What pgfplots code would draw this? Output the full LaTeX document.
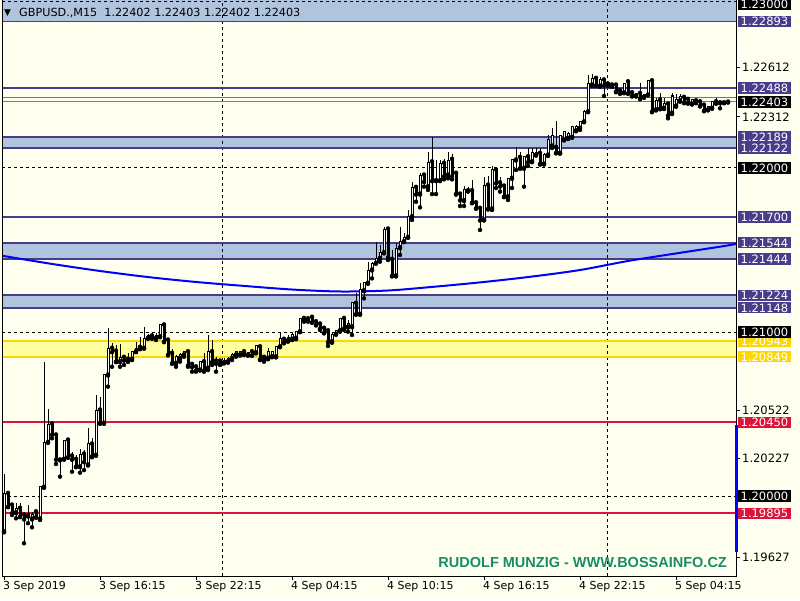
\documentclass[border=0pt]{standalone}
\usepackage{fontspec}
\setmainfont{DejaVu Sans}
\newfontfamily\arialfont{Liberation Sans}
\usepackage{pgfplots}
\usepackage{pgfplotstable}
\usetikzlibrary{calc}
\pgfplotsset{compat=1.18}
\pgfdeclarelayer{background}
\pgfsetlayers{background,main}

\definecolor{bg}{RGB}{255,255,240}
\definecolor{zonefill}{RGB}{176,196,222}
\definecolor{zoneline}{RGB}{72,61,139}
\definecolor{yfill}{RGB}{255,255,160}
\definecolor{yline}{RGB}{255,215,0}
\definecolor{redline}{RGB}{220,20,60}
\definecolor{askline}{RGB}{255,69,0}
\definecolor{mablue}{RGB}{0,0,255}
\definecolor{wmark}{RGB}{24,140,104}

% GBPUSD M15 candles, bar 0 = 3 Sep 10:15
\pgfplotstableread{
i O H L C
0 1.19782 1.20134 1.19780 1.20016
1 1.20016 1.20024 1.19933 1.19935
2 1.19945 1.19951 1.19884 1.19898
3 1.19898 1.19955 1.19864 1.19925
4 1.19925 1.19955 1.19874 1.19874
5 1.19884 1.19904 1.19712 1.19860
6 1.19878 1.19945 1.19834 1.19895
7 1.19860 1.19904 1.19809 1.19890
8 1.19904 1.19915 1.19870 1.19870
9 1.19860 1.20061 1.19854 1.20057
10 1.20053 1.20819 1.20053 1.20327
11 1.20327 1.20529 1.20327 1.20437
12 1.20439 1.20439 1.20352 1.20376
13 1.20372 1.20372 1.20195 1.20224
14 1.20220 1.20230 1.20118 1.20226
15 1.20224 1.20341 1.20224 1.20341
16 1.20341 1.20341 1.20236 1.20236
17 1.20244 1.20270 1.20148 1.20224
18 1.20224 1.20250 1.20179 1.20179
19 1.20179 1.20285 1.20142 1.20256
20 1.20256 1.20280 1.20158 1.20209
21 1.20189 1.20413 1.20189 1.20321
22 1.20317 1.20352 1.20236 1.20244
23 1.20248 1.20616 1.20248 1.20524
24 1.20524 1.20605 1.20443 1.20443
25 1.20443 1.20738 1.20443 1.20738
26 1.20738 1.21023 1.20667 1.20901
27 1.20901 1.20931 1.20788 1.20880
28 1.20884 1.20921 1.20819 1.20819
29 1.20819 1.20927 1.20788 1.20846
30 1.20846 1.20860 1.20799 1.20829
31 1.20834 1.20870 1.20819 1.20821
32 1.20834 1.20884 1.20829 1.20884
33 1.20880 1.20941 1.20880 1.20901
34 1.20907 1.20968 1.20898 1.20898
35 1.20901 1.21032 1.20901 1.20962
36 1.20962 1.20988 1.20962 1.20977
37 1.20976 1.20992 1.20962 1.20962
38 1.20962 1.20992 1.20951 1.20976
39 1.20971 1.21043 1.20971 1.21043
40 1.21043 1.21043 1.20941 1.20941
41 1.20951 1.20951 1.20860 1.20860
42 1.20870 1.20895 1.20809 1.20809
43 1.20809 1.20860 1.20788 1.20849
44 1.20840 1.20870 1.20819 1.20860
45 1.20860 1.20880 1.20849 1.20880
46 1.20880 1.20880 1.20788 1.20799
47 1.20803 1.20809 1.20758 1.20788
48 1.20788 1.20799 1.20758 1.20768
49 1.20768 1.20819 1.20768 1.20819
50 1.20819 1.20870 1.20758 1.20768
51 1.20779 1.20982 1.20768 1.20880
52 1.20880 1.20951 1.20799 1.20819
53 1.20823 1.20849 1.20758 1.20809
54 1.20823 1.20829 1.20799 1.20809
55 1.20813 1.20840 1.20809 1.20829
56 1.20819 1.20849 1.20813 1.20840
57 1.20840 1.20870 1.20829 1.20860
58 1.20860 1.20886 1.20849 1.20880
59 1.20860 1.20884 1.20860 1.20880
60 1.20880 1.20895 1.20860 1.20866
61 1.20860 1.20878 1.20857 1.20874
62 1.20880 1.20890 1.20854 1.20860
63 1.20874 1.20921 1.20870 1.20915
64 1.20910 1.20910 1.20829 1.20834
65 1.20846 1.20860 1.20819 1.20834
66 1.20840 1.20901 1.20834 1.20880
67 1.20849 1.20880 1.20849 1.20880
68 1.20849 1.20910 1.20846 1.20910
69 1.20910 1.20998 1.20910 1.20962
70 1.20956 1.20971 1.20931 1.20941
71 1.20947 1.20982 1.20941 1.20968
72 1.20956 1.20992 1.20951 1.20982
73 1.20962 1.21002 1.20956 1.21002
74 1.21002 1.21083 1.21002 1.21083
75 1.21083 1.21083 1.21063 1.21081
76 1.21081 1.21083 1.21063 1.21081
77 1.21090 1.21090 1.21059 1.21059
78 1.21063 1.21063 1.21043 1.21043
79 1.21049 1.21053 1.21012 1.21023
80 1.21023 1.21032 1.20992 1.20996
81 1.21008 1.21008 1.20915 1.20941
82 1.20941 1.20992 1.20935 1.20986
83 1.20986 1.21008 1.20986 1.21008
84 1.21008 1.21083 1.21002 1.21083
85 1.21083 1.21090 1.21012 1.21023
86 1.21030 1.21073 1.21002 1.21049
87 1.21032 1.21181 1.20982 1.21181
88 1.21175 1.21236 1.21108 1.21108
89 1.21108 1.21297 1.21108 1.21260
90 1.21252 1.21307 1.21205 1.21303
91 1.21297 1.21429 1.21297 1.21378
92 1.21378 1.21429 1.21327 1.21419
93 1.21419 1.21551 1.21419 1.21449
94 1.21449 1.21531 1.21429 1.21484
95 1.21484 1.21638 1.21480 1.21628
96 1.21628 1.21632 1.21439 1.21459
97 1.21443 1.21500 1.21342 1.21342
98 1.21342 1.21545 1.21342 1.21510
99 1.21514 1.21638 1.21470 1.21551
100 1.21551 1.21602 1.21551 1.21577
101 1.21577 1.21744 1.21577 1.21703
102 1.21703 1.21917 1.21683 1.21882
103 1.21882 1.21896 1.21794 1.21841
104 1.21841 1.21968 1.21760 1.21957
105 1.21957 1.21971 1.21886 1.21917
106 1.21886 1.22096 1.21866 1.22035
107 1.22038 1.22187 1.21841 1.21923
108 1.21923 1.22049 1.21841 1.21927
109 1.21923 1.22049 1.21923 1.22029
110 1.22029 1.22053 1.21931 1.21951
111 1.21957 1.22096 1.21937 1.22045
112 1.22053 1.22085 1.21931 1.21951
113 1.21968 1.21968 1.21841 1.21841
114 1.21841 1.21856 1.21768 1.21805
115 1.21801 1.21890 1.21768 1.21866
116 1.21862 1.21886 1.21856 1.21862
117 1.21862 1.21927 1.21788 1.21788
118 1.21788 1.21788 1.21754 1.21754
119 1.21754 1.21754 1.21622 1.21683
120 1.21683 1.21947 1.21683 1.21896
121 1.21896 1.21951 1.21750 1.21750
122 1.21750 1.22012 1.21744 1.21988
123 1.21988 1.21988 1.21878 1.21909
124 1.21910 1.21947 1.21856 1.21890
125 1.21890 1.21890 1.21825 1.21825
126 1.21825 1.21937 1.21805 1.21937
127 1.21937 1.22053 1.21878 1.22053
128 1.22049 1.22126 1.21988 1.22053
129 1.22065 1.22099 1.21998 1.21998
130 1.21998 1.22069 1.21886 1.22069
131 1.22069 1.22120 1.22012 1.22038
132 1.22038 1.22120 1.22038 1.22093
133 1.22079 1.22122 1.22079 1.22093
134 1.22090 1.22120 1.22024 1.22024
135 1.22024 1.22090 1.22024 1.22085
136 1.22079 1.22201 1.22073 1.22175
137 1.22134 1.22242 1.22122 1.22201
138 1.22126 1.22287 1.22090 1.22093
139 1.22090 1.22201 1.22090 1.22201
140 1.22171 1.22221 1.22171 1.22221
141 1.22181 1.22221 1.22177 1.22212
142 1.22187 1.22256 1.22187 1.22252
143 1.22227 1.22262 1.22226 1.22252
144 1.22242 1.22282 1.22232 1.22282
145 1.22282 1.22354 1.22282 1.22343
146 1.22343 1.22567 1.22343 1.22517
147 1.22506 1.22573 1.22500 1.22547
148 1.22547 1.22561 1.22500 1.22506
149 1.22500 1.22557 1.22496 1.22537
150 1.22537 1.22541 1.22439 1.22506
151 1.22512 1.22512 1.22500 1.22510
152 1.22506 1.22506 1.22494 1.22506
153 1.22506 1.22512 1.22465 1.22465
154 1.22471 1.22471 1.22455 1.22455
155 1.22459 1.22520 1.22459 1.22517
156 1.22526 1.22526 1.22455 1.22455
157 1.22459 1.22459 1.22439 1.22439
158 1.22439 1.22455 1.22439 1.22455
159 1.22455 1.22520 1.22419 1.22425
160 1.22431 1.22449 1.22431 1.22449
161 1.22445 1.22532 1.22445 1.22532
162 1.22532 1.22532 1.22343 1.22343
163 1.22354 1.22425 1.22354 1.22410
164 1.22415 1.22455 1.22358 1.22364
165 1.22364 1.22427 1.22360 1.22395
166 1.22390 1.22390 1.22303 1.22323
167 1.22334 1.22455 1.22329 1.22439
168 1.22378 1.22451 1.22374 1.22415
169 1.22410 1.22451 1.22404 1.22439
170 1.22431 1.22445 1.22398 1.22398
171 1.22419 1.22419 1.22395 1.22395
172 1.22390 1.22415 1.22390 1.22415
173 1.22410 1.22415 1.22398 1.22398
174 1.22404 1.22404 1.22378 1.22378
175 1.22384 1.22384 1.22349 1.22349
176 1.22354 1.22378 1.22354 1.22378
177 1.22364 1.22404 1.22364 1.22404
178 1.22404 1.22425 1.22395 1.22395
179 1.22398 1.22398 1.22364 1.22398
180 1.22398 1.22403 1.22396 1.22401
181 1.22402 1.22403 1.22402 1.22403
}\candles

% moving average
\pgfplotstableread{
i ma
-2 1.21472
0 1.21463
12 1.21415
24 1.21372
36 1.21335
48 1.21305
60 1.21281
72 1.21259
84 1.21247
96 1.21253
108 1.21277
120 1.21305
132 1.21338
144 1.21378
156 1.21433
168 1.21479
180 1.21524
184 1.21542
}\maline

\newcommand{\hlev}[2]{\addplot[#1] coordinates {(-0.5,#2) (183,#2)};}
\newcommand{\zonefill}[3]{\addplot[fill=#1, draw=none] coordinates {(-0.5,#2) (183,#2) (183,#3) (-0.5,#3)} -- cycle;}
\newcommand{\plabel}[2]{\node[lbl, fill=#1] at (axis cs:183,#2) {#2};}

\tikzset{lbl/.style={anchor=west, xshift=2pt, inner xsep=2.5pt, inner ysep=1.4pt,
  text=white, text height=8.6pt, text depth=0pt, font=\fontsize{11.5}{12}\selectfont}}

\begin{document}
\begin{tikzpicture}[x=1pt, y=1pt]
\begin{axis}[
  at={(0,0)}, anchor=south west,
  scale only axis, width=734pt, height=576pt,
  xmin=-0.5, xmax=183, ymin=1.195122, ymax=1.230244,
  axis line style={draw=none},
  xtick pos=bottom, ytick pos=right,
  xticklabel pos=bottom, yticklabel pos=right,
  clip mode=individual,
  tick align=outside, major tick length=4pt,
  tick style={black, line width=1pt},
  xtick={0,24,48,72,96,120,144,168},
  xticklabels={3 Sep 2019, 3 Sep 16:15, 3 Sep 22:15, 4 Sep 04:15, 4 Sep 10:15, 4 Sep 16:15, 4 Sep 22:15, 5 Sep 04:15},
  xticklabel style={anchor=north west, inner sep=0pt, xshift=-1pt, yshift=-1pt, font=\fontsize{11}{12}\selectfont},
  ytick={1.22612,1.22312,1.20522,1.20227,1.19627},
  yticklabels={1.22612,1.22312,1.20522,1.20227,1.19627},
  yticklabel style={anchor=west, inner sep=0pt, xshift=2pt, font=\fontsize{11.5}{12}\selectfont},
]
\coordinate (LL) at (rel axis cs:0,0);
% zones
\zonefill{zonefill}{1.22893}{1.2303}
\zonefill{zonefill}{1.22189}{1.22122}
\zonefill{zonefill}{1.21544}{1.21444}
\zonefill{zonefill}{1.21224}{1.21148}
\zonefill{yfill}{1.20943}{1.20849}

% grid
\hlev{black, line width=1pt, dash pattern=on 3pt off 3pt}{1.23018}
\hlev{black, line width=1pt, dash pattern=on 3pt off 3pt}{1.22}
\hlev{black, line width=1pt, dash pattern=on 3pt off 3pt}{1.21}
\hlev{black, line width=1pt, dash pattern=on 3pt off 3pt}{1.20}
\addplot[black, line width=1pt, dash pattern=on 3pt off 3pt] coordinates {(54.5,1.195122) (54.5,1.230244)};
\addplot[black, line width=1pt, dash pattern=on 3pt off 3pt] coordinates {(150.75,1.195122) (150.75,1.230244)};

% levels
\hlev{zoneline, line width=1.6pt}{1.22893}
\hlev{zoneline, line width=1.6pt}{1.22488}
\hlev{zoneline, line width=1.6pt}{1.22189}
\hlev{zoneline, line width=1.6pt}{1.22122}
\hlev{zoneline, line width=1.6pt}{1.21700}
\hlev{zoneline, line width=1.6pt}{1.21544}
\hlev{zoneline, line width=1.6pt}{1.21444}
\hlev{zoneline, line width=1.6pt}{1.21224}
\hlev{zoneline, line width=1.6pt}{1.21148}
\hlev{yline, line width=2pt}{1.20943}
\hlev{yline, line width=2pt}{1.20849}
\hlev{redline, line width=1.8pt}{1.20450}
\hlev{redline, line width=1.8pt}{1.19895}
\hlev{askline, line width=1pt}{1.22432}
\hlev{gray, line width=1pt}{1.22403}

% moving average
\addplot[mablue, line width=2pt, smooth] table[x=i, y=ma] {\maline};

% candles: wicks, body outline, hollow bull bodies
\addplot[only marks, mark=none, error bars/.cd, y dir=plus, y explicit, error mark=none,
  error bar style={black, line width=1pt}]
  table[x=i, y=L, y error plus expr={\thisrow{H}-\thisrow{L}}] {\candles};
\addplot[only marks, mark=none, error bars/.cd, y dir=plus, y explicit, error mark=none,
  error bar style={black, line width=3pt}]
  table[x=i, y expr={min(\thisrow{O},\thisrow{C})-0.0000305}, y error plus expr={abs(\thisrow{C}-\thisrow{O})+0.000061}] {\candles};
\addplot[only marks, mark=none, error bars/.cd, y dir=plus, y explicit, error mark=none,
  error bar style={white, line width=1pt}]
  table[x=i, y expr={\thisrow{O}+0.0000305}, y error plus expr={max(\thisrow{C}-\thisrow{O}-0.000061,0)}] {\candles};

% frame: left, bottom, right
\draw[black, line width=1pt] (rel axis cs:0,1) -- (rel axis cs:0,0) -- (rel axis cs:1,0) -- (rel axis cs:1,1);
\draw[mablue, line width=3pt] (axis cs:183,1.20433) -- (axis cs:183,1.19658);

% price labels
\plabel{zoneline}{1.22893}
\plabel{zoneline}{1.22488}
\plabel{zoneline}{1.22189}
\plabel{zoneline}{1.22122}
\plabel{zoneline}{1.21700}
\plabel{zoneline}{1.21544}
\plabel{zoneline}{1.21444}
\plabel{zoneline}{1.21224}
\plabel{zoneline}{1.21148}
\plabel{yline}{1.20943}
\plabel{yline}{1.20849}
\plabel{redline}{1.20450}
\plabel{redline}{1.19895}
\plabel{black}{1.23000}
\plabel{black}{1.22000}
\plabel{black}{1.21000}
\plabel{black}{1.20000}
\plabel{black}{1.22403}
\end{axis}

\coordinate (O) at ($(LL)+(-2,-24)$);
\node[anchor=west, inner sep=0pt, font=\fontsize{9}{10}\selectfont] at ($(O)+(4,587)$) {▼};
\node[anchor=west, inner sep=0pt, font=\fontsize{11.2}{12}\selectfont] at ($(O)+(19,587)$) {GBPUSD.,M15\ \ 1.22402 1.22403 1.22402 1.22403};
\node[anchor=east, inner sep=0pt, text=wmark, font=\arialfont\bfseries\fontsize{14.5}{16}\selectfont] at ($(O)+(727,37)$) {RUDOLF MUNZIG - WWW.BOSSAINFO.CZ};
\begin{pgfonlayer}{background}
\fill[bg] (O) rectangle ($(O)+(800,600)$);
\end{pgfonlayer}
\pgfresetboundingbox
\useasboundingbox (O) rectangle ($(O)+(800,600)$);
\end{tikzpicture}
\end{document}
